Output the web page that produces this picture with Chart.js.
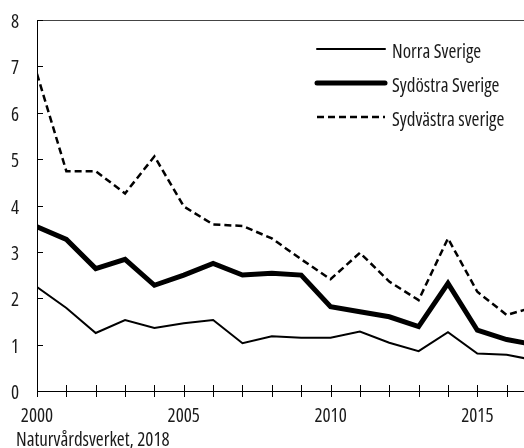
<!DOCTYPE html>
<html lang="sv">
<head>
<meta charset="UTF-8">
<title>Naturvårdsverket 2018</title>
<script src="https://cdn.jsdelivr.net/npm/chart.js@4.4.1/dist/chart.umd.min.js"></script>
<style>
    html, body {
        margin: 0;
        padding: 0;
        background: #ffffff;
    }
    .wrap {
        width: 524px;
        height: 448px;
        position: relative;
    }
</style>
</head>
<body>
<div class="wrap">
    <canvas id="chart" width="524" height="448"></canvas>
</div>
<script>
// data
const years = [2000, 2001, 2002, 2003, 2004, 2005, 2006, 2007, 2008, 2009, 2010, 2011, 2012, 2013, 2014, 2015, 2016, 2017];
const norraSverige = [2.24, 1.79, 1.25, 1.53, 1.36, 1.46, 1.53, 1.03, 1.18, 1.15, 1.15, 1.28, 1.04, 0.86, 1.27, 0.81, 0.78, 0.66];
const sydostraSverige = [3.54, 3.27, 2.64, 2.84, 2.28, 2.50, 2.75, 2.50, 2.54, 2.50, 1.82, 1.71, 1.60, 1.39, 2.32, 1.31, 1.11, 0.99];
const sydvastraSverige = [6.84, 4.74, 4.74, 4.26, 5.06, 3.98, 3.59, 3.56, 3.29, 2.84, 2.41, 2.98, 2.36, 1.96, 3.29, 2.14, 1.64, 1.82];
const seriesLabels = ['Norra Sverige', 'Sydöstra Sverige', 'Sydvästra sverige'];
const yTicks = [0, 1, 2, 3, 4, 5, 6, 7, 8];
const xLabelYears = [2000, 2005, 2010, 2015];
const caption = 'Naturvårdsverket, 2018';

const FONT = '19px "Open Sans", "DejaVu Sans Condensed", sans-serif';

function toPoints(values) {
    return values.map((v, i) => ({ x: years[i], y: v }));
}

function setFont(ctx) {
    ctx.font = FONT;
    ctx.fontStretch = 'condensed'; // Open Sans Condensed face
    ctx.fillStyle = '#1a1a1a';
    ctx.textBaseline = 'alphabetic';
}

// tick marks, labels, top line, legend and caption
const decorations = {
    id: 'decorations',
    afterDraw(chart) {
        const ctx = chart.ctx;
        const area = chart.chartArea;
        const xs = chart.scales.x;
        const ys = chart.scales.y;
        ctx.save();

        // top frame line
        ctx.strokeStyle = '#444';
        ctx.lineWidth = 1;
        ctx.beginPath();
        ctx.moveTo(area.left, area.top + 0.5);
        ctx.lineTo(area.right, area.top + 0.5);
        ctx.stroke();

        // x ticks crossing the axis
        ctx.strokeStyle = '#000';
        years.forEach(yr => {
            const px = Math.round(xs.getPixelForValue(yr)) + 0.5;
            if (px > area.right) return;
            ctx.beginPath();
            ctx.moveTo(px, area.bottom - 6);
            ctx.lineTo(px, area.bottom + 6);
            ctx.stroke();
        });

        // y ticks inside
        yTicks.forEach(v => {
            const py = Math.round(ys.getPixelForValue(v)) + 0.5;
            ctx.beginPath();
            ctx.moveTo(area.left, py);
            ctx.lineTo(area.left + 6, py);
            ctx.stroke();
        });

        // tick labels
        setFont(ctx);
        ctx.textAlign = 'right';
        yTicks.forEach(v => {
            ctx.fillText(String(v), area.left - 18, ys.getPixelForValue(v) + 8);
        });
        ctx.textAlign = 'center';
        xLabelYears.forEach(yr => {
            ctx.fillText(String(yr), xs.getPixelForValue(yr), area.bottom + 31);
        });

        // legend
        const lx0 = 317, lx1 = 385, tx = 392;
        const rows = [49, 83, 117];
        chart.data.datasets.forEach((ds, i) => {
            ctx.save();
            ctx.strokeStyle = ds.borderColor;
            ctx.lineWidth = ds.borderWidth;
            ctx.lineCap = ds.borderDash ? 'butt' : 'round';
            ctx.setLineDash(ds.borderDash || []);
            ctx.beginPath();
            ctx.moveTo(lx0, rows[i]);
            ctx.lineTo(lx1, rows[i]);
            ctx.stroke();
            ctx.restore();
            setFont(ctx);
            ctx.textAlign = 'left';
            ctx.fillText(ds.label, tx, rows[i] + 9);
        });

        // source caption
        setFont(ctx);
        ctx.textAlign = 'left';
        ctx.fillText(caption, 16, 446);

        ctx.restore();
    }
};

const ctx = document.getElementById('chart').getContext('2d');
const chart = new Chart(ctx, {
    type: 'line',
    data: {
        datasets: [
            {
                label: seriesLabels[0],
                data: toPoints(norraSverige),
                borderColor: '#000',
                borderWidth: 2,
                pointRadius: 0,
                tension: 0,
                borderJoinStyle: 'miter'
            },
            {
                label: seriesLabels[1],
                data: toPoints(sydostraSverige),
                borderColor: '#000',
                borderWidth: 5,
                pointRadius: 0,
                tension: 0,
                borderJoinStyle: 'miter'
            },
            {
                label: seriesLabels[2],
                data: toPoints(sydvastraSverige),
                borderColor: '#000',
                borderWidth: 2.5,
                borderDash: [7, 4],
                pointRadius: 0,
                tension: 0,
                borderJoinStyle: 'miter'
            }
        ]
    },
    options: {
        responsive: false,
        animation: false,
        events: [],
        layout: {
            padding: { top: 20, left: 0, right: 0, bottom: 0 }
        },
        scales: {
            x: {
                type: 'linear',
                min: 2000,
                max: 2016.59,
                afterFit(scale) { scale.height = 57; },
                border: { display: true, color: '#000', width: 1 },
                grid: { display: false, drawTicks: false },
                ticks: { display: false }
            },
            y: {
                min: 0,
                max: 8,
                afterFit(scale) { scale.width = 37; },
                border: { display: true, color: '#000', width: 1 },
                grid: { display: false, drawTicks: false },
                ticks: { display: false }
            }
        },
        plugins: {
            legend: { display: false },
            tooltip: { enabled: false }
        }
    },
    plugins: [decorations]
});
</script>
</body>
</html>
